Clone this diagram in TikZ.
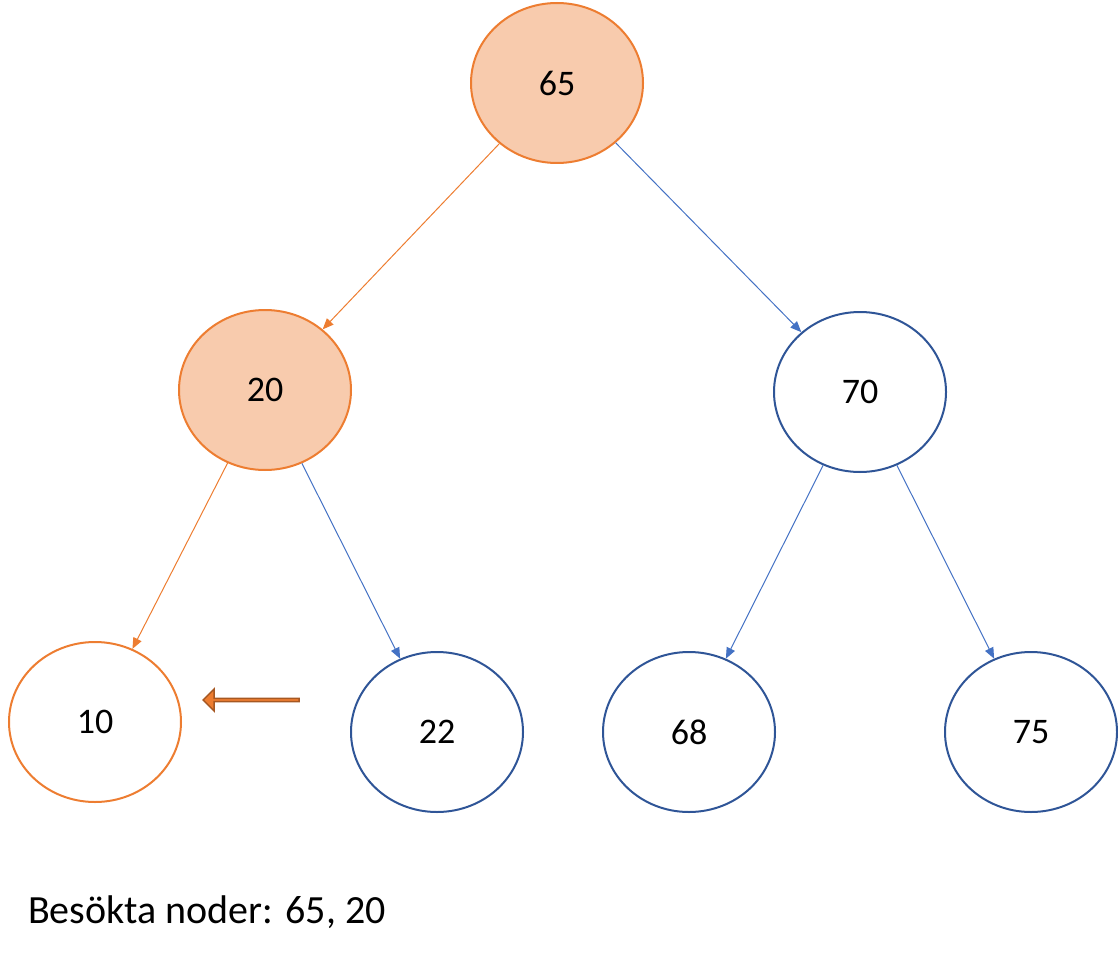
\documentclass[tikz,border=0pt]{standalone}
\usepackage{fontspec}
\setmainfont{Carlito}
\usetikzlibrary{shapes.geometric,shapes.arrows,arrows.meta}
\definecolor{org}{HTML}{ED7D31}
\definecolor{orgfill}{HTML}{F8CBAD}
\definecolor{blu}{HTML}{4472C4}
\definecolor{dblu}{HTML}{2F5597}
\tikzset{
 nd/.style={ellipse,draw=dblu,line width=2pt,minimum width=172pt,minimum height=160pt,inner sep=0pt,font=\fontsize{36}{40}\selectfont},
 vis/.style={nd,draw=org,fill=orgfill},
 cur/.style={nd,draw=org},
 ed/.style={blu,line width=1pt,-{Triangle[length=11pt,width=9pt]}},
 oed/.style={ed,org}
}
\begin{document}
\begin{tikzpicture}[x=1pt,y=-1pt]
\useasboundingbox (0,0) rectangle (1118,960);
\node[vis] (n65) at (557,83) {65};
\node[vis] (n20) at (265,390) {20};
\node[nd] (n70) at (860,392) {70};
\node[cur] (n10) at (95,722) {10};
\node[nd] (n22) at (437,732) {22};
\node[nd] (n68) at (689,732) {68};
\node[nd] (n75) at (1031,732) {75};
\draw[oed] (n65) -- (n20);
\draw[ed] (n65) -- (n70);
\draw[oed] (n20) -- (n10);
\draw[ed] (n20) -- (n22);
\draw[ed] (n70) -- (n68);
\draw[ed] (n70) -- (n75);
\node[single arrow,shape border rotate=180,draw=org!70!black,fill=org,line width=1.5pt,minimum height=96pt,minimum width=22pt,single arrow head extend=4pt,inner sep=0pt] (arr) at (252,700) {};
\node[anchor=base west,font=\fontsize{40}{44}\selectfont,inner sep=0pt] (lbl) at (28,923) {Besökta noder: 65, 20};
\end{tikzpicture}
\end{document}
